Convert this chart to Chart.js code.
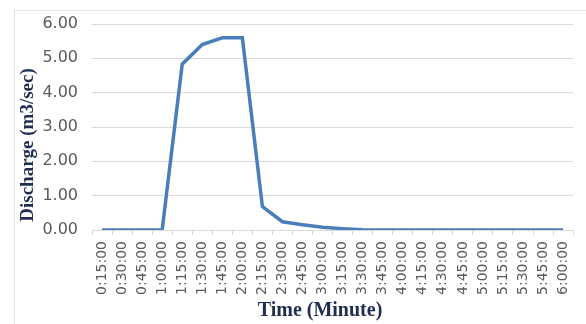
<!DOCTYPE html>
<html>
<head>
<meta charset="utf-8">
<script src="https://cdn.jsdelivr.net/npm/chart.js@4.4.1/dist/chart.umd.min.js"></script>
<style>
  html, body { margin: 0; padding: 0; background: #fff; }
  #frame { position: absolute; left: 14px; top: 10px; width: 600px; height: 340px; border: 1px solid #dde3ea; }
  #wrap { position: absolute; left: 0; top: 0; width: 586px; height: 324px; }
</style>
</head>
<body>
<div id="frame"></div>
<div id="wrap"><canvas id="lineChart"></canvas></div>
<script>
const timeLabels = ['0:15:00', '0:30:00', '0:45:00', '1:00:00', '1:15:00', '1:30:00', '1:45:00', '2:00:00',
    '2:15:00', '2:30:00', '2:45:00', '3:00:00', '3:15:00', '3:30:00', '3:45:00', '4:00:00',
    '4:15:00', '4:30:00', '4:45:00', '5:00:00', '5:15:00', '5:30:00', '5:45:00', '6:00:00'];
const discharge = [0, 0, 0, 0, 4.83, 5.4, 5.6, 5.6,
    0.68, 0.24, 0.15, 0.08, 0.04, 0.01, 0, 0,
    0, 0, 0, 0, 0, 0, 0, 0];
const yTicks = [0, 1, 2, 3, 4, 5, 6];

const serif = '"Liberation Serif", "Times New Roman", serif';
const sans = '"DejaVu Sans", Arial, sans-serif';

// axis titles drawn by hand, the Excel ones sit a bit off centre
const axisTitles = {
    id: 'axisTitles',
    afterDraw(chart) {
        const ctx = chart.ctx;
        ctx.save();
        ctx.fillStyle = '#1f2d50';
        ctx.textAlign = 'center';
        ctx.textBaseline = 'middle';
        ctx.font = 'bold 20px ' + serif;
        ctx.fillText('Time (Minute)', 320, 311);
        ctx.translate(28, 145);
        ctx.rotate(-Math.PI / 2);
        ctx.font = 'bold 19px ' + serif;
        ctx.fillText('Discharge (m3/sec)', 0, 0);
        ctx.restore();
    }
};

new Chart(document.getElementById('lineChart'), {
    type: 'line',
    data: {
        labels: timeLabels,
        datasets: [
            {
                label: 'Discharge',
                data: discharge,
                borderColor: 'rgb(74,126,187)',
                borderWidth: 3.5,
                pointRadius: 0,
                tension: 0,
                fill: false
            }
        ]
    },
    options: {
        responsive: true,
        maintainAspectRatio: false,
        animation: false,
        layout: { padding: { top: 24, right: 4, left: 0, bottom: 0 } },
        plugins: {
            legend: { display: false },
            tooltip: { enabled: false }
        },
        scales: {
            x: {
                offset: true,
                afterFit: scale => { scale.height = 94; },
                grid: { drawOnChartArea: false, drawTicks: true, tickLength: 5, color: '#d9d9d9', offset: true },
                border: { color: '#d9d9d9' },
                ticks: { color: '#5a5a5a', font: { family: sans, size: 14 }, minRotation: 90, maxRotation: 90, autoSkip: false, padding: 6 }
            },
            y: {
                min: 0,
                max: 6,
                afterFit: scale => { scale.width = 92; },
                afterBuildTicks: scale => { scale.ticks = yTicks.map(v => ({ value: v })); },
                grid: { color: '#d9d9d9', drawTicks: false },
                border: { display: false },
                ticks: { color: '#5a5a5a', font: { family: sans, size: 16 }, padding: 14, callback: v => v.toFixed(2) }
            }
        }
    },
    plugins: [axisTitles]
});
</script>
</body>
</html>
